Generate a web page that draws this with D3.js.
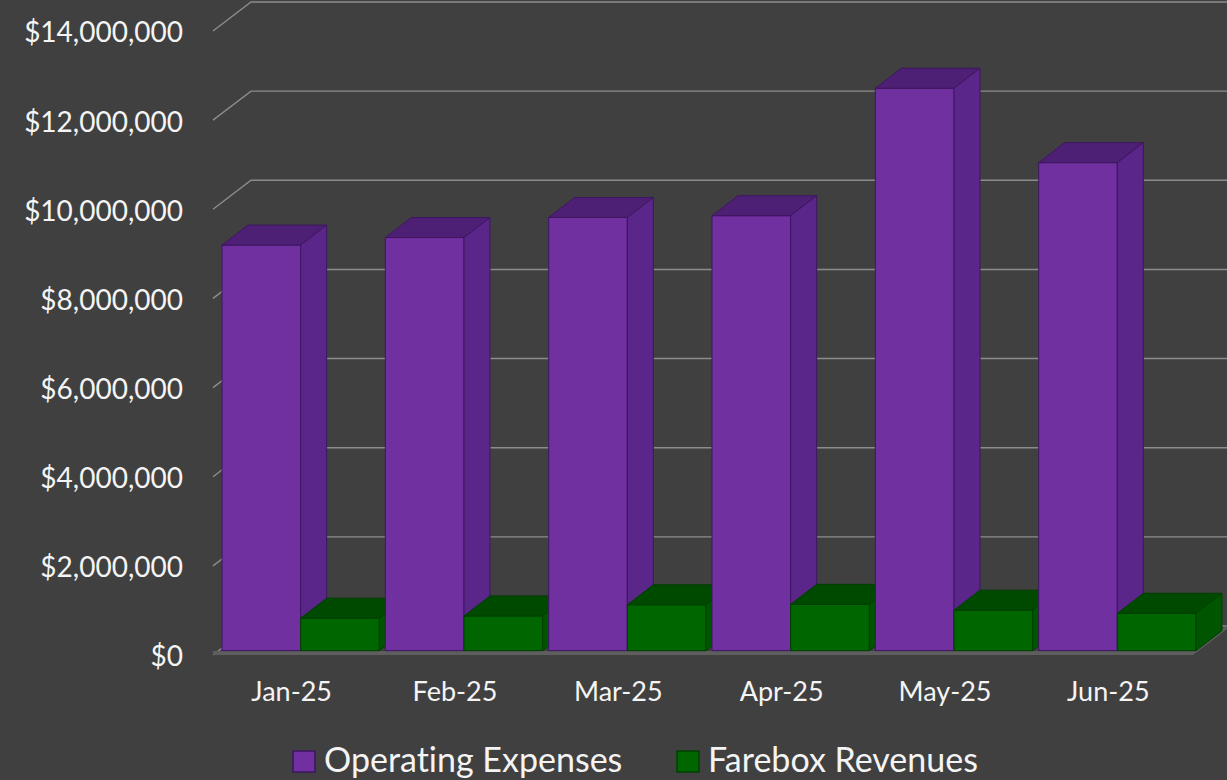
<!DOCTYPE html>
<html>
<head>
<meta charset="utf-8">
<script src="https://cdn.jsdelivr.net/npm/d3@7"></script>
<style>
  html, body { margin: 0; padding: 0; background: #404040; }
  svg text { font-family: Lato, "Open Sans", sans-serif; fill: #f4f4f4; font-variant-ligatures: none; }
</style>
</head>
<body>
<div id="chart"></div>
<script>
// data
const categories = ["Jan-25", "Feb-25", "Mar-25", "Apr-25", "May-25", "Jun-25"];
const seriesNames = ["Operating Expenses", "Farebox Revenues"];
const operatingExpenses = [9100000, 9270000, 9720000, 9760000, 12620000, 10950000];
const fareboxRevenues = [730000, 780000, 1030000, 1040000, 910000, 840000];
const yTicks = [0, 2000000, 4000000, 6000000, 8000000, 10000000, 12000000, 14000000];

const width = 1227, height = 780;

// 3d look: wall depth, bar plane offset, bar depth
const wallDx = 38, wallDy = -29;
const barOffX = 6, barOffY = -4.3;
const barDx = 26, barDy = -20;

const colors = {
  "Operating Expenses": { front: "#7030a0", top: "#4e2075", side: "#5b268a", stroke: "#3d1660" },
  "Farebox Revenues": { front: "#006600", top: "#004a00", side: "#005500", stroke: "#003f00" }
};

const svg = d3.select("#chart").append("svg")
  .attr("width", width)
  .attr("height", height);

svg.append("rect").attr("width", width).attr("height", height).attr("fill", "#404040");

let y = d3.scaleLinear().domain([0, 14000000]).range([655, 31]);
let x = d3.scaleBand().domain(categories).range([213, 1193]);
let xSub = d3.scaleBand().domain(seriesNames).range([0, x.bandwidth() - 6]);

// gridlines: side wall diagonal + back wall line
svg.append("g").selectAll("path")
  .data(yTicks)
  .join("path")
  .attr("d", d => {
    let yy = y(d);
    return "M213," + yy + "L" + (213 + wallDx) + "," + (yy + wallDy) + "L" + width + "," + (yy + wallDy);
  })
  .attr("fill", "none")
  .attr("stroke", "#8c8c8c")
  .attr("stroke-width", 1.4);

// floor slab edges
let y0 = y(0);
let floor = svg.append("g");
floor.append("path")
  .attr("d", "M213," + (y0 - 4) + "H" + x.range()[1] + "V" + y0 + "H213Z")
  .attr("fill", "#5e5e5e");
floor.append("path")
  .attr("d", "M" + x.range()[1] + "," + (y0 - 4) + "l" + wallDx + "," + wallDy + "v4l" + (-wallDx) + "," + (-wallDy) + "Z")
  .attr("fill", "#5e5e5e");

// bars, drawn left to right so each bar hides the side of the previous one
let bars = [];
categories.forEach((c, i) => {
  bars.push({ cat: c, series: seriesNames[0], value: operatingExpenses[i] });
  bars.push({ cat: c, series: seriesNames[1], value: fareboxRevenues[i] });
});

let barG = svg.append("g").selectAll("g")
  .data(bars)
  .join("g");

barG.each(function (d) {
  let g = d3.select(this);
  let c = colors[d.series];
  let x0 = x(d.cat) + barOffX + 3 + xSub(d.series);
  let x1 = x0 + xSub.bandwidth();
  let yb = y(0) + barOffY;
  let yt = y(d.value) + barOffY;
  // front
  g.append("path")
    .attr("d", "M" + x0 + "," + yt + "H" + x1 + "V" + yb + "H" + x0 + "Z")
    .attr("fill", c.front).attr("stroke", c.stroke).attr("stroke-width", 1);
  // top
  g.append("path")
    .attr("d", "M" + x0 + "," + yt + "l" + barDx + "," + barDy + "H" + (x1 + barDx) + "L" + x1 + "," + yt + "Z")
    .attr("fill", c.top).attr("stroke", c.stroke).attr("stroke-width", 1);
  // side
  g.append("path")
    .attr("d", "M" + x1 + "," + yt + "l" + barDx + "," + barDy + "V" + (yb + barDy) + "L" + x1 + "," + yb + "Z")
    .attr("fill", c.side).attr("stroke", c.stroke).attr("stroke-width", 1);
});

// y axis labels
let yAxis = d3.axisLeft(y)
  .tickValues(yTicks)
  .tickFormat(d3.format("$,"))
  .tickSize(0)
  .tickPadding(30);

let yG = svg.append("g")
  .attr("transform", "translate(213,2)")
  .call(yAxis);
yG.select(".domain").remove();
yG.selectAll("text")
  .attr("fill", "#f4f4f4")
  .style("font-size", "28px")
  .style("font-family", "Lato, sans-serif");

// x axis labels
let xAxis = d3.axisBottom(x).tickSize(0).tickPadding(27);
let xG = svg.append("g")
  .attr("transform", "translate(-3," + y0 + ")")
  .call(xAxis);
xG.select(".domain").remove();
xG.selectAll("text")
  .attr("fill", "#f4f4f4")
  .style("font-size", "27px")
  .style("font-family", "Lato, sans-serif");

// legend
let legendX = [293, 677];
let legend = svg.append("g").selectAll("g")
  .data(seriesNames)
  .join("g")
  .attr("transform", (d, i) => "translate(" + legendX[i] + ",751)");
legend.append("rect")
  .attr("width", 22).attr("height", 21)
  .attr("fill", d => colors[d].front)
  .attr("stroke", d => colors[d].stroke)
  .attr("stroke-width", 1.5);
legend.append("text")
  .attr("x", 31).attr("y", 21)
  .style("font-size", "34px")
  .text(d => d);
</script>
</body>
</html>
